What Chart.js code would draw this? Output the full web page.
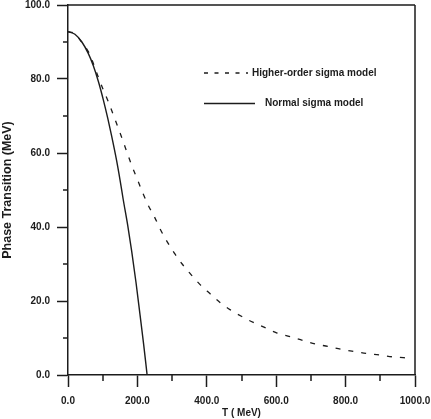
<!DOCTYPE html>
<html><head><meta charset="utf-8">
<script src="https://cdn.jsdelivr.net/npm/chart.js@4"></script>
<style>html,body{margin:0;padding:0;background:#fff;}#wrap{width:431px;height:419px;}</style>
</head><body><div id="wrap"><canvas id="c" width="431" height="419"></canvas></div>
<script>
// ---- data ----
const seriesLabels = ['Higher-order sigma model', 'Normal sigma model'];
const higherT = [0, 20, 35, 58.6, 73, 87, 102, 116, 130.6, 145, 157.6, 171, 185, 199.8, 215, 231, 248.8, 267, 286, 306, 329, 354, 380, 409, 438, 468, 501, 534, 568, 601, 640, 678, 712, 750, 789, 827, 861, 899, 937, 981];
const higherV = [92.8, 92.2, 90.5, 87.4, 84.2, 80.6, 77.0, 73.9, 70.3, 66.7, 63.5, 59.9, 56.3, 52.9, 49.3, 45.9, 42.8, 39.2, 36.0, 33.0, 30.0, 27.2, 24.5, 22.0, 19.6, 17.6, 15.8, 14.2, 12.8, 11.4, 10.4, 9.3, 8.4, 7.7, 6.9, 6.3, 5.8, 5.4, 4.9, 4.6];
const normalT = [0, 20, 40, 58, 73, 88, 102, 115, 126, 140, 150, 159, 172, 183.5, 196, 207.5, 218, 228];
const normalV = [92.8, 92.1, 90.0, 87.0, 83.6, 79.2, 74.3, 69.2, 64.5, 58.0, 52.7, 47.5, 40.5, 33.5, 25.0, 16.3, 8.3, 0];
const xTickValues = [0, 200, 400, 600, 800, 1000];
const xMinorTicks = [100, 300, 500, 700, 900];
const yTickValues = [0, 20, 40, 60, 80, 100];
const yMinorTicks = [10, 30, 50, 70, 90];
const xTitle = 'T ( MeV)';
const yTitle = 'Phase Transition (MeV)';

const ink = '#1c1c1c';
const fontFam = '"Liberation Sans", Arial, sans-serif';
const toPts = (ts, vs) => ts.map((t, i) => ({x: t, y: vs[i]}));

const framePlugin = {
  id: 'frame',
  afterDraw(chart) {
    const {ctx, chartArea: a, scales: {x, y}} = chart;
    ctx.save();
    ctx.strokeStyle = ink;
    ctx.lineWidth = 1.5;
    ctx.beginPath();
    ctx.moveTo(a.left, a.top); ctx.lineTo(a.right, a.top);
    ctx.moveTo(a.right, a.top); ctx.lineTo(a.right, a.bottom);
    xMinorTicks.forEach(v => { const p = Math.round(x.getPixelForValue(v)); ctx.moveTo(p, a.bottom); ctx.lineTo(p, a.bottom + 6); });
    yMinorTicks.forEach(v => { const p = Math.round(y.getPixelForValue(v)); ctx.moveTo(a.left - 5, p); ctx.lineTo(a.left, p); });
    ctx.stroke();
    // legend
    const rows = [{y: 73, x0: 204, x1: 248, tx: 252}, {y: 103.5, x0: 204, x1: 255, tx: 265}];
    chart.data.datasets.forEach((ds, i) => {
      const r = rows[i];
      ctx.lineWidth = 1.3;
      ctx.setLineDash(ds.borderDash && ds.borderDash.length ? [4, 6.5] : []);
      ctx.beginPath(); ctx.moveTo(r.x0, r.y); ctx.lineTo(r.x1, r.y); ctx.stroke();
      ctx.setLineDash([]);
      ctx.fillStyle = ink;
      ctx.font = 'bold 10px ' + fontFam;
      ctx.textBaseline = 'middle';
      ctx.textAlign = 'left';
      ctx.fillText(ds.label, r.tx, r.y);
    });
    ctx.restore();
  }
};

new Chart(document.getElementById('c'), {
  type: 'line',
  data: {
    datasets: [
      {label: seriesLabels[0], data: toPts(higherT, higherV), borderColor: ink, borderWidth: 1.3, borderDash: [5, 8], pointRadius: 0, fill: false, cubicInterpolationMode: 'monotone'},
      {label: seriesLabels[1], data: toPts(normalT, normalV), borderColor: ink, borderWidth: 1.4, pointRadius: 0, fill: false, cubicInterpolationMode: 'monotone'}
    ]
  },
  options: {
    responsive: false, animation: false, devicePixelRatio: 1,
    layout: {padding: {left: 0, right: 16, top: 5, bottom: 0}},
    plugins: {legend: {display: false}, tooltip: {enabled: false}},
    scales: {
      x: {
        type: 'linear', min: 0, max: 1000,
        afterBuildTicks: s => { s.ticks = xTickValues.map(v => ({value: v})); },
        afterFit: s => { s.height = 44; s.paddingLeft = 0; s.paddingRight = 0; },
        ticks: {callback: v => Number(v).toFixed(1), color: ink, font: {family: fontFam, size: 10, weight: 'bold'}, padding: 8, maxRotation: 0, autoSkip: false},
        grid: {drawOnChartArea: false, drawTicks: true, tickLength: 12, tickColor: ink, tickWidth: 1.5},
        border: {color: ink, width: 1.5},
        title: {display: true, text: xTitle, color: ink, font: {family: fontFam, size: 10, weight: 'bold'}, padding: {top: 0, bottom: 0}}
      },
      y: {
        type: 'linear', min: 0, max: 100,
        afterBuildTicks: s => { s.ticks = yTickValues.map(v => ({value: v})); },
        afterFit: s => { s.width = 68; s.paddingTop = 0; s.paddingBottom = 0; },
        ticks: {callback: v => Number(v).toFixed(1), color: ink, font: {family: fontFam, size: 10, weight: 'bold'}, padding: 7, autoSkip: false},
        grid: {drawOnChartArea: false, drawTicks: true, tickLength: 11, tickColor: ink, tickWidth: 1.5},
        border: {color: ink, width: 1.5},
        title: {display: true, text: yTitle, color: ink, font: {family: fontFam, size: 12.5, weight: 'bold'}, padding: {top: 0, bottom: 0}}
      }
    }
  },
  plugins: [framePlugin]
});
</script></body></html>
